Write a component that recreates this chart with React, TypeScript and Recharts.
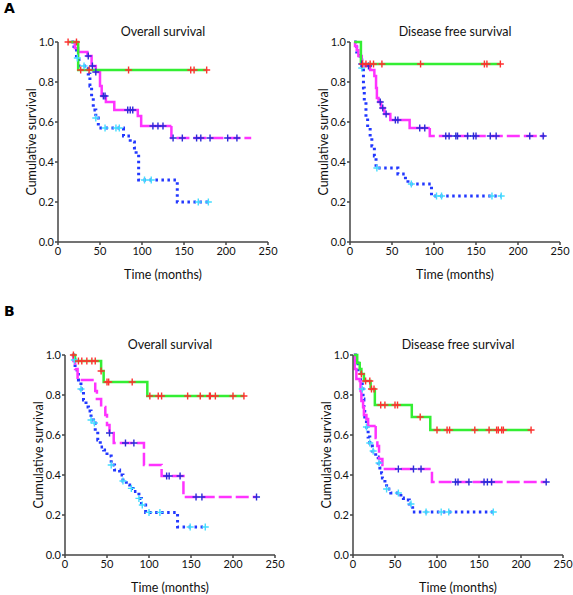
import React from 'react';
import { ComposedChart, Line, Scatter, XAxis, YAxis } from 'recharts';

type Pt = [number, number];

// (time in months, cumulative survival) at the start of each step
const aOsGreen: Pt[] = [[12, 1], [24, 0.86], [177, 0.86]];
const aOsGreenCens = [12, 22, 27, 37, 84, 158, 162, 177];
const aOsMagenta: Pt[] = [[16, 1], [20, 0.97], [24, 0.95], [35, 0.93], [40, 0.88], [45, 0.85], [50, 0.78], [52, 0.73], [57, 0.7], [67, 0.66], [95, 0.63], [99, 0.58], [135, 0.52], [230, 0.52]];
const aOsMagentaCens = [36, 41, 45, 54, 56, 83, 86, 89, 113, 119, 125, 137, 148, 165, 170, 181, 202, 213];
const aOsBlue: Pt[] = [[16, 1], [19, 0.97], [22, 0.92], [25, 0.88], [36, 0.84], [38, 0.78], [40, 0.72], [42, 0.66], [45, 0.62], [48, 0.57], [78, 0.53], [86, 0.5], [91, 0.47], [93, 0.44], [96, 0.31], [142, 0.2], [180, 0.2]];
const aOsBlueCens = [23, 31, 45, 56, 69, 73, 103, 111, 167, 179];

const aDfsGreen: Pt[] = [[5, 1], [13, 0.89], [179, 0.89]];
const aDfsGreenCens = [15, 19, 24, 28, 38, 84, 160, 163, 179];
const aDfsMagenta: Pt[] = [[5, 1], [6, 0.98], [8, 0.96], [10, 0.93], [14, 0.89], [18, 0.88], [24, 0.86], [29, 0.83], [31, 0.77], [32, 0.72], [34, 0.7], [37, 0.67], [41, 0.64], [48, 0.61], [71, 0.57], [95, 0.53], [232, 0.53]];
const aDfsMagentaCens = [14, 22, 36, 39, 43, 54, 57, 83, 89, 114, 118, 126, 128, 140, 147, 150, 167, 174, 214, 230];
const aDfsBlue: Pt[] = [[5, 1], [8, 0.95], [12, 0.93], [14, 0.87], [16, 0.77], [17, 0.7], [19, 0.62], [21, 0.57], [24, 0.52], [26, 0.48], [29, 0.43], [31, 0.37], [57, 0.34], [66, 0.31], [69, 0.29], [97, 0.23], [180, 0.23]];
const aDfsBlueCens = [14, 32, 73, 103, 109, 169, 180];

const bOsGreen: Pt[] = [[8, 1], [12, 0.97], [43, 0.92], [46, 0.865], [98, 0.795], [213, 0.795]];
const bOsGreenCens = [10, 16, 20, 26, 32, 36, 43, 50, 52, 80, 101, 111, 115, 146, 161, 172, 173, 179, 200, 213];
const bOsMagenta: Pt[] = [[8, 1], [10, 0.97], [12, 0.93], [15, 0.875], [36, 0.82], [38, 0.78], [43, 0.74], [48, 0.7], [50, 0.65], [53, 0.61], [58, 0.56], [94, 0.45], [115, 0.395], [141, 0.29], [228, 0.29]];
const bOsMagentaCens = [53, 72, 82, 121, 124, 137, 156, 163, 228];
const bOsBlue: Pt[] = [[9, 1], [10, 0.975], [12, 0.925], [16, 0.875], [19, 0.83], [22, 0.775], [25, 0.74], [28, 0.72], [31, 0.675], [34, 0.66], [36, 0.617], [39, 0.575], [42, 0.54], [46, 0.525], [50, 0.495], [55, 0.45], [59, 0.425], [65, 0.4], [69, 0.37], [73, 0.35], [77, 0.333], [81, 0.317], [88, 0.283], [91, 0.25], [96, 0.213], [134, 0.14], [167, 0.14]];
const bOsBlueCens = [11, 19, 31, 35, 55, 69, 79, 88, 92, 100, 113, 149, 167];

const bDfsGreen: Pt[] = [[1, 1], [5, 0.96], [8, 0.93], [10, 0.905], [13, 0.87], [21, 0.83], [26, 0.75], [70, 0.69], [92, 0.625], [212, 0.625]];
const bDfsGreenCens = [10, 15, 20, 22, 25, 33, 38, 50, 53, 80, 100, 112, 115, 145, 162, 171, 173, 177, 179, 212];
const bDfsMagenta: Pt[] = [[1, 1], [2, 0.93], [4, 0.88], [8, 0.87], [9, 0.82], [10, 0.77], [12, 0.74], [13, 0.7], [16, 0.68], [18, 0.645], [27, 0.585], [29, 0.545], [31, 0.48], [35, 0.43], [94, 0.365], [230, 0.365]];
const bDfsMagentaCens = [54, 72, 81, 122, 125, 138, 156, 160, 165, 230];
const bDfsBlue: Pt[] = [[1, 1], [3, 0.96], [6, 0.91], [9, 0.87], [11, 0.83], [12, 0.78], [13, 0.74], [14, 0.69], [16, 0.64], [18, 0.59], [20, 0.56], [21, 0.545], [23, 0.52], [27, 0.49], [30, 0.46], [32, 0.435], [34, 0.41], [35, 0.385], [38, 0.36], [40, 0.33], [45, 0.31], [57, 0.285], [60, 0.275], [67, 0.255], [71, 0.215], [167, 0.215]];
const bDfsBlueCens = [11, 16, 20, 24, 31, 40, 54, 69, 87, 105, 114, 167];

const xTicks = [0, 50, 100, 150, 200, 250];
const yTicks = [0, 0.2, 0.4, 0.6, 0.8, 1.0];

const GREEN = '#33ee33';
const MAGENTA = '#ff33ff';
const BLUE = '#2238ff';
const RED = '#ff3030';
const CROSS_BLUE = '#2a2ad8';
const CYAN = '#44ddff';
const FONT = 'Lato, "Open Sans", sans-serif';

const rows = (pts: Pt[]) => pts.map(([t, s]) => ({ t, s }));
const survAt = (pts: Pt[], t: number) => {
  let s = pts[0][1];
  for (const [x, y] of pts) if (x <= t) s = y;
  return s;
};
const censRows = (pts: Pt[], times: number[]) => times.map((t) => ({ t, s: survAt(pts, t) }));

// the magenta curve is drawn solid up to a given time, dashed after it
const splitAt = (pts: Pt[], at: number): [Pt[], Pt[]] => {
  const before = pts.filter(([t]) => t < at);
  if (before.length === 0) return [[], pts];
  const level = before[before.length - 1][1];
  const after = pts.filter(([t]) => t >= at);
  return [[...before, [at, level]], [[at, level], ...after]];
};

const plus = (color: string) => (props: any) => {
  const { cx, cy } = props;
  return <path d={`M${cx - 3.5},${cy}h7M${cx},${cy - 3.5}v7`} stroke={color} strokeWidth={1.4} fill="none" />;
};

interface PanelProps {
  left: number;
  top: number;
  title: string;
  green: Pt[];
  greenCens: number[];
  magenta: Pt[];
  magentaCens: number[];
  solidUntil: number;
  blue: Pt[];
  blueCens: number[];
}

const Panel = ({ left, top, title, green, greenCens, magenta, magentaCens, solidUntil, blue, blueCens }: PanelProps) => {
  const [magSolid, magDashed] = splitAt(magenta, solidUntil);
  return (
    <div style={{ position: 'absolute', left, top, width: 290, height: 300 }}>
      <div style={{ position: 'absolute', left: 58, width: 210, top: 24, textAlign: 'center', fontFamily: FONT, fontSize: 12.5, color: '#111' }}>
        {title}
      </div>
      <ComposedChart width={290} height={300} margin={{ top: 42, right: 22, bottom: 0, left: 0 }}>
        <XAxis
          type="number"
          dataKey="t"
          domain={[0, 250]}
          ticks={xTicks}
          allowDataOverflow
          height={58}
          tickSize={3}
          tickMargin={2}
          stroke="#444"
          strokeWidth={1.5}
          tick={{ fill: '#111', fontSize: 11, fontFamily: FONT }}
          label={{ value: 'Time (months)', position: 'insideBottom', offset: 21, fill: '#111', fontSize: 12.5, fontFamily: FONT }}
        />
        <YAxis
          type="number"
          dataKey="s"
          domain={[0, 1]}
          ticks={yTicks}
          width={58}
          tickSize={3}
          tickMargin={1}
          stroke="#444"
          strokeWidth={1.5}
          tickFormatter={(v: number) => v.toFixed(1)}
          tick={{ fill: '#111', fontSize: 11, fontFamily: FONT }}
          label={{ value: 'Cumulative survival', angle: -90, position: 'insideLeft', offset: 32, fill: '#111', fontSize: 12.5, fontFamily: FONT, style: { textAnchor: 'middle' } }}
        />
        <Line data={rows(blue)} dataKey="s" type="stepAfter" stroke={BLUE} strokeWidth={3} strokeDasharray="2.5 3.5" dot={false} activeDot={false} isAnimationActive={false} />
        {magSolid.length > 0 && (
          <Line data={rows(magSolid)} dataKey="s" type="stepAfter" stroke={MAGENTA} strokeWidth={2.5} dot={false} activeDot={false} isAnimationActive={false} />
        )}
        <Line data={rows(magDashed)} dataKey="s" type="stepAfter" stroke={MAGENTA} strokeWidth={2.5} strokeDasharray="13 4" dot={false} activeDot={false} isAnimationActive={false} />
        <Line data={rows(green)} dataKey="s" type="stepAfter" stroke={GREEN} strokeWidth={2.5} dot={false} activeDot={false} isAnimationActive={false} />
        <Scatter data={censRows(blue, blueCens)} dataKey="s" shape={plus(CYAN)} isAnimationActive={false} />
        <Scatter data={censRows(magenta, magentaCens)} dataKey="s" shape={plus(CROSS_BLUE)} isAnimationActive={false} />
        <Scatter data={censRows(green, greenCens)} dataKey="s" shape={plus(RED)} isAnimationActive={false} />
      </ComposedChart>
    </div>
  );
};

const letterStyle: React.CSSProperties = {
  position: 'absolute',
  fontFamily: '"DejaVu Sans", sans-serif',
  fontWeight: 'bold',
  fontSize: 14,
  color: '#000',
};

export default function App() {
  return (
    <div style={{ position: 'absolute', left: 0, top: 0, width: 573, height: 595, background: '#fff' }}>
      <div style={{ ...letterStyle, left: 4, top: 0 }}>A</div>
      <div style={{ ...letterStyle, left: 4, top: 303 }}>B</div>
      <Panel left={0} top={0} title="Overall survival" green={aOsGreen} greenCens={aOsGreenCens} magenta={aOsMagenta} magentaCens={aOsMagentaCens} solidUntil={135} blue={aOsBlue} blueCens={aOsBlueCens} />
      <Panel left={292} top={0} title="Disease free survival" green={aDfsGreen} greenCens={aDfsGreenCens} magenta={aDfsMagenta} magentaCens={aDfsMagentaCens} solidUntil={95} blue={aDfsBlue} blueCens={aDfsBlueCens} />
      <Panel left={7} top={313} title="Overall survival" green={bOsGreen} greenCens={bOsGreenCens} magenta={bOsMagenta} magentaCens={bOsMagentaCens} solidUntil={0} blue={bOsBlue} blueCens={bOsBlueCens} />
      <Panel left={295} top={313} title="Disease free survival" green={bDfsGreen} greenCens={bDfsGreenCens} magenta={bDfsMagenta} magentaCens={bDfsMagentaCens} solidUntil={27} blue={bDfsBlue} blueCens={bDfsBlueCens} />
    </div>
  );
}
